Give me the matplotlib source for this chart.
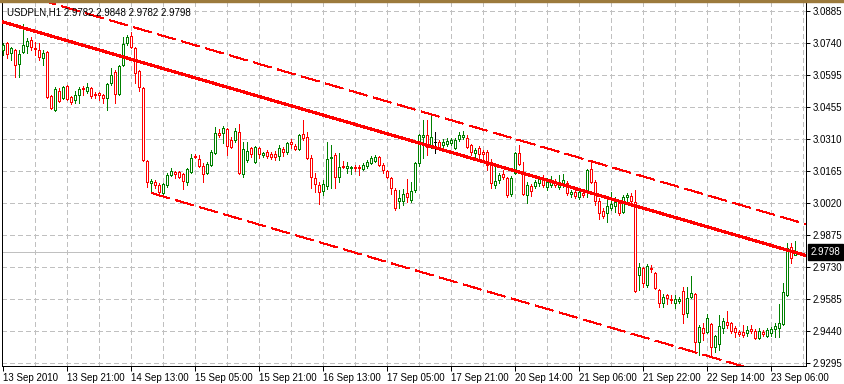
import matplotlib
matplotlib.use("Agg")
import matplotlib.pyplot as plt
from matplotlib.patches import Rectangle
from matplotlib.transforms import blended_transform_factory
import numpy as np

plt.rcParams['font.family'] = ['Liberation Sans', 'DejaVu Sans']
plt.rcParams['lines.scale_dashes'] = False

# USDPLN H1 candles, 13 Sep 2010 .. 23 Sep 2010
opens = [
    3.0709, 3.0740, 3.0695, 3.0709, 3.0646, 3.0700, 3.0727, 3.0754, 3.0718, 3.0709,
    3.0673, 3.0700, 3.0501, 3.0438, 3.0524, 3.0492, 3.0546, 3.0497, 3.0483, 3.0506,
    3.0537, 3.0524, 3.0537, 3.0510, 3.0515, 3.0506, 3.0492, 3.0560, 3.0609, 3.0510,
    3.0641, 3.0740, 3.0772, 3.0718, 3.0614, 3.0537, 3.0207, 3.0108, 3.0113, 3.0099,
    3.0063, 3.0099, 3.0144, 3.0158, 3.0158, 3.0149, 3.0113, 3.0158, 3.0230, 3.0217,
    3.0185, 3.0153, 3.0189, 3.0244, 3.0334, 3.0334, 3.0352, 3.0302, 3.0302, 3.0338,
    3.0149, 3.0212, 3.0266, 3.0203, 3.0266, 3.0235, 3.0248, 3.0239, 3.0239, 3.0230,
    3.0262, 3.0248, 3.0293, 3.0275, 3.0262, 3.0329, 3.0316, 3.0221, 3.0131, 3.0099,
    3.0072, 3.0095, 3.0221, 3.0235, 3.0135, 3.0185, 3.0176, 3.0176, 3.0180, 3.0180,
    3.0171, 3.0185, 3.0198, 3.0207, 3.0226, 3.0189, 3.0162, 3.0131, 3.0076, 3.0027,
    3.0027, 3.0063, 3.0031, 3.0076, 3.0198, 3.0316, 3.0325, 3.0271, 3.0293, 3.0293,
    3.0280, 3.0284, 3.0289, 3.0266, 3.0307, 3.0316, 3.0311, 3.0280, 3.0244, 3.0266,
    3.0248, 3.0248, 3.0203, 3.0099, 3.0122, 3.0149, 3.0131, 3.0058, 3.0153, 3.0244,
    3.0158, 3.0054, 3.0095, 3.0095, 3.0108, 3.0131, 3.0090, 3.0099, 3.0117, 3.0090,
    3.0104, 3.0108, 3.0058, 3.0067, 3.0045, 3.0063, 3.0076, 3.0171, 3.0113, 3.0027,
    2.9982, 2.9973, 2.9995, 3.0004, 3.0018, 2.9977, 3.0045, 3.0049, 3.0022, 2.9693,
    2.9724, 2.9647, 2.9724, 2.9702, 2.9625, 2.9566, 2.9602, 2.9584, 2.9566, 2.9575,
    2.9620, 2.9521, 2.9593, 2.9607, 2.9390, 2.9453, 2.9435, 2.9471, 2.9367, 2.9381,
    2.9453, 2.9480, 2.9476, 2.9453, 2.9435, 2.9435, 2.9431, 2.9449, 2.9440, 2.9408,
    2.9435, 2.9417, 2.9431, 2.9449, 2.9453, 2.9471, 2.9602, 2.9819, 2.9782,
]
highs = [
    3.0740, 3.0745, 3.0722, 3.0713, 3.0709, 3.0826, 3.0763, 3.0768, 3.0745, 3.0740,
    3.0709, 3.0704, 3.0506, 3.0542, 3.0537, 3.0546, 3.0551, 3.0501, 3.0524, 3.0542,
    3.0546, 3.0560, 3.0542, 3.0519, 3.0519, 3.0510, 3.0560, 3.0628, 3.0619, 3.0641,
    3.0768, 3.0777, 3.0790, 3.0722, 3.0619, 3.0542, 3.0212, 3.0126, 3.0122, 3.0108,
    3.0108, 3.0153, 3.0176, 3.0162, 3.0162, 3.0153, 3.0176, 3.0239, 3.0239, 3.0235,
    3.0198, 3.0203, 3.0257, 3.0361, 3.0352, 3.0366, 3.0357, 3.0316, 3.0357, 3.0375,
    3.0293, 3.0293, 3.0271, 3.0275, 3.0271, 3.0248, 3.0257, 3.0248, 3.0253, 3.0280,
    3.0271, 3.0293, 3.0307, 3.0284, 3.0329, 3.0393, 3.0338, 3.0235, 3.0153, 3.0113,
    3.0122, 3.0293, 3.0280, 3.0244, 3.0244, 3.0207, 3.0203, 3.0185, 3.0189, 3.0189,
    3.0198, 3.0212, 3.0230, 3.0235, 3.0230, 3.0198, 3.0167, 3.0135, 3.0085, 3.0076,
    3.0081, 3.0126, 3.0113, 3.0203, 3.0329, 3.0393, 3.0393, 3.0415, 3.0338, 3.0302,
    3.0307, 3.0311, 3.0311, 3.0311, 3.0338, 3.0343, 3.0325, 3.0284, 3.0266, 3.0275,
    3.0257, 3.0257, 3.0217, 3.0189, 3.0153, 3.0167, 3.0135, 3.0140, 3.0248, 3.0280,
    3.0203, 3.0113, 3.0104, 3.0122, 3.0140, 3.0144, 3.0131, 3.0140, 3.0126, 3.0144,
    3.0149, 3.0117, 3.0076, 3.0076, 3.0081, 3.0072, 3.0171, 3.0203, 3.0122, 3.0040,
    2.9995, 3.0031, 3.0067, 3.0045, 3.0031, 3.0054, 3.0063, 3.0063, 3.0076, 2.9747,
    2.9729, 2.9742, 2.9738, 2.9706, 2.9629, 2.9607, 2.9607, 2.9602, 2.9602, 2.9593,
    2.9638, 2.9638, 2.9688, 2.9611, 2.9467, 2.9476, 2.9516, 2.9476, 2.9422, 2.9512,
    2.9498, 2.9530, 2.9480, 2.9462, 2.9444, 2.9467, 2.9462, 2.9467, 2.9449, 2.9453,
    2.9444, 2.9453, 2.9458, 2.9476, 2.9562, 2.9656, 2.9837, 2.9837, 2.9848,
]
lows = [
    3.0686, 3.0673, 3.0664, 3.0587, 3.0587, 3.0695, 3.0695, 3.0709, 3.0686, 3.0664,
    3.0641, 3.0492, 3.0442, 3.0433, 3.0474, 3.0488, 3.0483, 3.0465, 3.0469, 3.0469,
    3.0506, 3.0515, 3.0492, 3.0492, 3.0483, 3.0469, 3.0438, 3.0551, 3.0469, 3.0506,
    3.0637, 3.0731, 3.0718, 3.0560, 3.0524, 3.0207, 3.0090, 3.0063, 3.0085, 3.0063,
    3.0045, 3.0090, 3.0140, 3.0131, 3.0131, 3.0081, 3.0099, 3.0153, 3.0221, 3.0180,
    3.0113, 3.0149, 3.0185, 3.0239, 3.0316, 3.0289, 3.0235, 3.0266, 3.0293, 3.0149,
    3.0135, 3.0203, 3.0226, 3.0198, 3.0221, 3.0226, 3.0221, 3.0217, 3.0212, 3.0212,
    3.0230, 3.0239, 3.0266, 3.0257, 3.0257, 3.0302, 3.0217, 3.0085, 3.0067, 3.0013,
    3.0054, 3.0081, 3.0085, 3.0085, 3.0113, 3.0176, 3.0153, 3.0149, 3.0162, 3.0144,
    3.0167, 3.0176, 3.0194, 3.0203, 3.0185, 3.0153, 3.0131, 3.0058, 2.9986, 2.9995,
    3.0009, 3.0022, 3.0022, 3.0067, 3.0185, 3.0221, 3.0235, 3.0266, 3.0244, 3.0262,
    3.0262, 3.0275, 3.0280, 3.0262, 3.0298, 3.0307, 3.0266, 3.0235, 3.0226, 3.0221,
    3.0217, 3.0167, 3.0085, 3.0085, 3.0108, 3.0126, 3.0045, 3.0049, 3.0149, 3.0189,
    3.0054, 3.0018, 3.0049, 3.0085, 3.0095, 3.0090, 3.0076, 3.0090, 3.0090, 3.0081,
    3.0090, 3.0054, 3.0045, 3.0040, 3.0036, 3.0045, 3.0045, 3.0108, 3.0009, 2.9946,
    2.9950, 2.9932, 2.9986, 2.9977, 2.9964, 2.9973, 3.0018, 3.0022, 2.9616, 2.9625,
    2.9638, 2.9638, 2.9706, 2.9629, 2.9548, 2.9548, 2.9562, 2.9566, 2.9543, 2.9566,
    2.9476, 2.9503, 2.9589, 2.9345, 2.9331, 2.9399, 2.9431, 2.9322, 2.9345, 2.9354,
    2.9431, 2.9453, 2.9431, 2.9413, 2.9417, 2.9413, 2.9417, 2.9431, 2.9404, 2.9404,
    2.9417, 2.9413, 2.9417, 2.9413, 2.9413, 2.9467, 2.9598, 2.9747, 2.9782,
]
closes = [
    3.0731, 3.0691, 3.0718, 3.0641, 3.0691, 3.0731, 3.0750, 3.0722, 3.0713, 3.0677,
    3.0695, 3.0497, 3.0447, 3.0533, 3.0478, 3.0542, 3.0488, 3.0474, 3.0506, 3.0533,
    3.0533, 3.0542, 3.0501, 3.0506, 3.0506, 3.0492, 3.0555, 3.0596, 3.0510, 3.0637,
    3.0736, 3.0768, 3.0722, 3.0605, 3.0542, 3.0212, 3.0113, 3.0117, 3.0099, 3.0067,
    3.0104, 3.0144, 3.0162, 3.0149, 3.0135, 3.0117, 3.0171, 3.0221, 3.0226, 3.0185,
    3.0149, 3.0194, 3.0248, 3.0334, 3.0325, 3.0357, 3.0275, 3.0271, 3.0343, 3.0153,
    3.0262, 3.0253, 3.0239, 3.0271, 3.0239, 3.0244, 3.0230, 3.0226, 3.0226, 3.0266,
    3.0248, 3.0289, 3.0284, 3.0262, 3.0325, 3.0311, 3.0221, 3.0135, 3.0104, 3.0067,
    3.0104, 3.0217, 3.0226, 3.0135, 3.0180, 3.0180, 3.0185, 3.0180, 3.0176, 3.0176,
    3.0189, 3.0203, 3.0221, 3.0226, 3.0189, 3.0167, 3.0135, 3.0085, 2.9995, 3.0040,
    3.0058, 3.0045, 3.0072, 3.0198, 3.0325, 3.0325, 3.0271, 3.0316, 3.0293, 3.0271,
    3.0293, 3.0298, 3.0302, 3.0302, 3.0325, 3.0325, 3.0271, 3.0248, 3.0257, 3.0239,
    3.0239, 3.0189, 3.0108, 3.0117, 3.0144, 3.0135, 3.0054, 3.0131, 3.0244, 3.0194,
    3.0058, 3.0099, 3.0072, 3.0113, 3.0126, 3.0099, 3.0113, 3.0117, 3.0099, 3.0113,
    3.0122, 3.0063, 3.0067, 3.0049, 3.0067, 3.0054, 3.0167, 3.0113, 3.0027, 2.9973,
    2.9959, 3.0004, 3.0013, 3.0022, 2.9973, 3.0045, 3.0054, 3.0027, 2.9620, 2.9729,
    2.9656, 2.9733, 2.9720, 2.9634, 2.9566, 2.9593, 2.9589, 2.9580, 2.9584, 2.9584,
    2.9516, 2.9589, 2.9611, 2.9390, 2.9458, 2.9431, 2.9498, 2.9367, 2.9417, 2.9462,
    2.9485, 2.9467, 2.9440, 2.9435, 2.9426, 2.9422, 2.9444, 2.9440, 2.9408, 2.9440,
    2.9426, 2.9444, 2.9449, 2.9462, 2.9476, 2.9616, 2.9814, 2.9769, 2.9798,
]

time_labels = ["13 Sep 2010", "13 Sep 21:00", "14 Sep 13:00", "15 Sep 05:00",
               "15 Sep 21:00", "16 Sep 13:00", "17 Sep 05:00", "17 Sep 21:00",
               "20 Sep 14:00", "21 Sep 06:00", "21 Sep 22:00", "22 Sep 14:00",
               "23 Sep 06:00"]
price_labels = ["2.9295", "2.9440", "2.9585", "2.9730", "2.9875", "3.0020",
                "3.0165", "3.0310", "3.0455", "3.0595", "3.0740", "3.0885"]
price_lo, price_hi = 2.9295, 3.0885
bid = 2.9798
title = "USDPLN,H1 2.9782 2.9848 2.9782 2.9798"

# trend lines: two anchor points each (bar index, price)
main_line = ([0, 200], [3.0835, 2.9784])
upper_line = ([28, 196], [3.0836, 2.9947])
lower_line = ([37, 177], [3.0063, 2.9322])

BULL = '#008000'
BEAR = '#ff0000'
GRID = '#c0c0c0'
PX = 0.72  # one pixel in points at 100 dpi
FS = 7

W, H = 845, 384
fig = plt.figure(figsize=(W / 100, H / 100), dpi=100)
fig.patch.set_facecolor('white')
ax = fig.add_axes([2.5 / W, 18 / H, (806 - 2.5) / W, (366 - 2) / H])

n = len(closes)
idx = np.arange(n)
o = np.array(opens)
c = np.array(closes)
h = np.array(highs)
l = np.array(lows)

yticks = np.linspace(price_lo, price_hi, len(price_labels))
step = yticks[1] - yticks[0]
ax.set_ylim(price_lo - step * 3 / 32, price_hi + step * 9 / 32)
ax.set_xlim(-0.2, 200.675)

# grid
for k in range(8, 201, 8):
    ax.axvline(k, color=GRID, lw=PX, dashes=(2.9, 2.2), zorder=0.5, antialiased=False)
for yt in yticks:
    ax.axhline(yt, color=GRID, lw=PX, dashes=(2.9, 2.2), zorder=0.5, antialiased=False)

ax.axhline(bid, color=GRID, lw=PX, zorder=0.8, antialiased=False)

cols = np.where(c > o, BULL, np.where(c < o, BEAR, 'black'))
ax.vlines(idx, l, h, colors=cols, lw=PX, zorder=2, antialiased=False)
ax.bar(idx, np.abs(c - o), width=0.5, bottom=np.minimum(o, c), facecolor='white',
       edgecolor=cols, linewidth=PX, zorder=3, antialiased=False)


def extend(line, x0, x1):
    (xa, xb), (ya, yb) = line
    k = (yb - ya) / (xb - xa)
    xs = np.array([x0, x1])
    return xs, ya + k * (xs - xa)


xs, ys = extend(main_line, -1, 202)
ax.plot(xs, ys, color=BEAR, lw=1.5, zorder=5, antialiased=False, solid_capstyle='butt')
xs, ys = extend(upper_line, -1, 202)
ax.plot(xs, ys, color=BEAR, lw=0.5, dashes=(13.5, 4.5), zorder=5, antialiased=False)
xs, ys = extend(lower_line, lower_line[0][0], 202)
ax.plot(xs, ys, color=BEAR, lw=0.5, dashes=(13.5, 4.5), zorder=5, antialiased=False)

# axes, ticks
for s in ax.spines.values():
    s.set_color('black')
    s.set_linewidth(PX)
ax.yaxis.tick_right()
ax.set_yticks(yticks, price_labels)
ax.tick_params(axis='y', direction='out', length=3, width=PX, pad=1.5,
               labelsize=FS, colors='black')
ax.set_xticks(np.arange(len(time_labels)) * 16, time_labels)
ax.tick_params(axis='x', direction='out', length=3.6, width=PX, pad=1.2,
               labelsize=FS, colors='black')
for lab in ax.get_xticklabels():
    lab.set_ha('left')

trans = blended_transform_factory(ax.transAxes, ax.transData)
ax.text(1.0057, bid, f"{bid:.4f}", transform=trans, color='white', fontsize=FS,
        va='center', ha='left',
        bbox=dict(boxstyle='square,pad=0.3', fc='black', ec='black'))

ax.text(0.005, 0.971, title, transform=ax.transAxes, fontsize=FS,
        va='center', ha='left', color='black', zorder=6)

fig.add_artist(Rectangle((0, 1 - 1.5 / H), 1, 1.5 / H, transform=fig.transFigure,
                         color='#9c7a3c'))

fig.savefig('out.png', dpi=100)
